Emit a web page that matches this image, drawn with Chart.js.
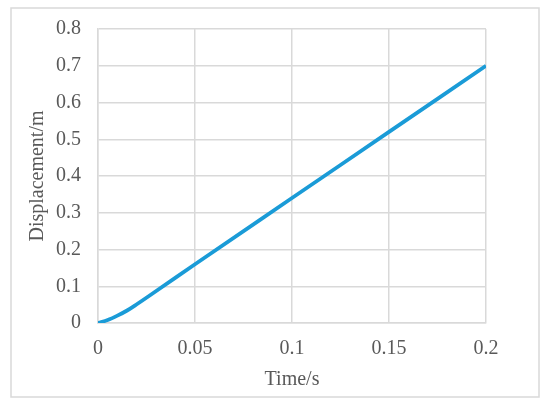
<!DOCTYPE html>
<html>
<head>
<meta charset="utf-8">
<script src="https://cdn.jsdelivr.net/npm/chart.js@4"></script>
<style>
  html, body { margin: 0; padding: 0; background: #fff; }
  #wrap { position: relative; width: 550px; height: 409px; }
</style>
</head>
<body>
<div id="wrap"><canvas id="dispChart" width="550" height="409"></canvas></div>
<script>
// ---------- DATA ----------
const timeVals = [0, 0.005, 0.01, 0.015, 0.02, 0.03, 0.05, 0.1, 0.15, 0.2];
const dispVals = [0, 0.008, 0.02, 0.034, 0.051, 0.087, 0.16, 0.34, 0.52, 0.7];
const xTickLabels = ["0", "0.05", "0.1", "0.15", "0.2"];
const yTickLabels = ["0", "0.1", "0.2", "0.3", "0.4", "0.5", "0.6", "0.7", "0.8"];

const gray = "#595959";
const gridGray = "#d9d9d9";
const serif = "'Liberation Serif', 'Times New Roman', serif";
const tickFont = { family: serif, size: 20 };

// outer frame like the Excel chart border
const framePlugin = {
  id: "frame",
  beforeDraw(chart) {
    const ctx = chart.ctx;
    ctx.save();
    ctx.fillStyle = "#fff";
    ctx.fillRect(0, 0, chart.width, chart.height);
    ctx.strokeStyle = gridGray;
    ctx.lineWidth = 1.5;
    ctx.strokeRect(11, 8, 528, 389);
    ctx.restore();
  },
};

new Chart(document.getElementById("dispChart"), {
  type: "scatter",
  data: {
    datasets: [{
      data: timeVals.map((t, i) => ({ x: t, y: dispVals[i] })),
      showLine: true,
      borderColor: "#1a9bd7",
      borderWidth: 3.8,
      pointRadius: 0,
      cubicInterpolationMode: "monotone",
    }],
  },
  options: {
    responsive: false,
    animation: false,
    layout: { padding: { top: 29, right: 64, left: 0, bottom: 0 } },
    plugins: { legend: { display: false }, tooltip: { enabled: false } },
    scales: {
      x: {
        type: "linear",
        min: 0,
        max: 0.2,
        afterFit(s) { s.height = 86; },
        grid: { color: gridGray, lineWidth: 1.5, drawTicks: false },
        border: { color: gridGray, width: 1.5 },
        ticks: {
          stepSize: 0.05,
          padding: 14,
          color: gray,
          font: tickFont,
          maxRotation: 0,
          callback: (v, i) => xTickLabels[i],
        },
        title: { display: true, text: "Time/s", color: gray, font: { family: serif, size: 20 }, padding: { top: 0, bottom: 17 } },
      },
      y: {
        min: 0,
        max: 0.8,
        afterFit(s) { s.width = 98; },
        grid: { color: gridGray, lineWidth: 1.5, drawTicks: false },
        border: { color: gridGray, width: 1.5 },
        ticks: {
          stepSize: 0.1,
          padding: 17,
          color: gray,
          font: tickFont,
          callback: (v, i) => yTickLabels[i],
        },
        title: { display: true, text: "Displacement/m", color: gray, font: { family: serif, size: 20 }, padding: { top: 26, bottom: 0 } },
      },
    },
  },
  plugins: [framePlugin],
});
</script>
</body>
</html>
